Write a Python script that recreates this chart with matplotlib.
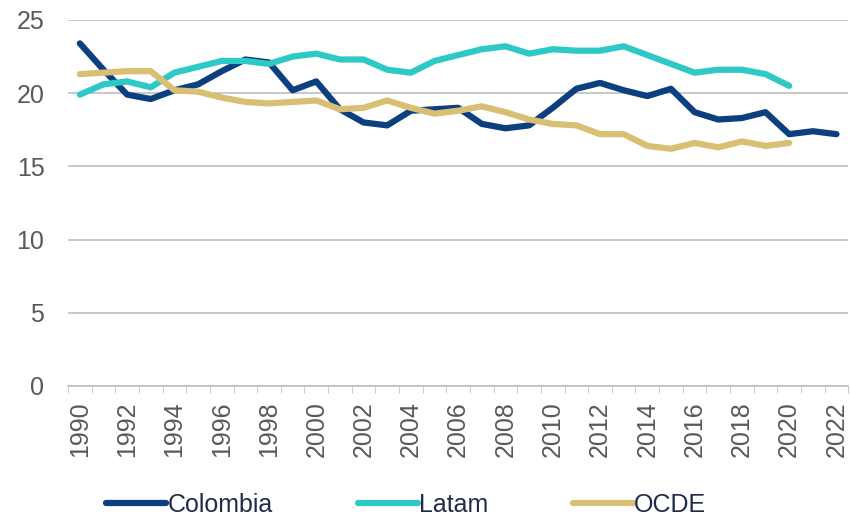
import matplotlib
matplotlib.use("Agg")
import matplotlib.pyplot as plt
import numpy as np

plt.rcParams['font.family'] = ['Liberation Sans', 'DejaVu Sans']

anios = list(range(1990, 2023))
colombia = [23.4, 21.6, 19.9, 19.6, 20.2, 20.6, 21.5, 22.3, 22.1, 20.2, 20.8,
            18.9, 18.0, 17.8, 18.8, 18.9, 19.0, 17.9, 17.6, 17.8, 19.0, 20.3,
            20.7, 20.2, 19.8, 20.3, 18.7, 18.2, 18.3, 18.7, 17.2, 17.4, 17.2]
latam = [19.9, 20.6, 20.8, 20.4, 21.4, 21.8, 22.2, 22.2, 22.0, 22.5, 22.7,
         22.3, 22.3, 21.6, 21.4, 22.2, 22.6, 23.0, 23.2, 22.7, 23.0, 22.9,
         22.9, 23.2, 22.6, 22.0, 21.4, 21.6, 21.6, 21.3, 20.5]
ocde = [21.3, 21.4, 21.5, 21.5, 20.2, 20.1, 19.7, 19.4, 19.3, 19.4, 19.5,
        18.9, 19.0, 19.5, 19.0, 18.6, 18.8, 19.1, 18.7, 18.2, 17.9, 17.8,
        17.2, 17.2, 16.4, 16.2, 16.6, 16.3, 16.7, 16.4, 16.6]

gris = '#595959'
fig = plt.figure(figsize=(8.5, 5.17), dpi=100)
ax = fig.add_axes([0.08, 0.2534, 0.918, 0.708])

ax.plot(anios, colombia, color='#0B3F7F', lw=4.5, label='Colombia', solid_capstyle='round')
ax.plot(anios[:len(latam)], latam, color='#2EC8C6', lw=4.5, label='Latam', solid_capstyle='round')
ax.plot(anios[:len(ocde)], ocde, color='#D8BF73', lw=4.5, label='OCDE', solid_capstyle='round')

ax.set_xlim(1989.5, 2022.5)
ax.set_ylim(0, 25)
ax.set_yticks([0, 5, 10, 15, 20, 25])
ax.yaxis.grid(True, color='#BFBFBF', lw=1.2)
ax.set_axisbelow(True)
ax.set_xticks(anios[::2])
ax.set_xticklabels([str(a) for a in anios[::2]], rotation=90)
ax.set_xticks(np.arange(1989.5, 2023, 1), minor=True)
ax.tick_params(axis='x', which='major', length=0, pad=11, labelsize=18, labelcolor=gris)
ax.tick_params(axis='x', which='minor', length=5, color='#BFBFBF')
ax.tick_params(axis='y', length=0, pad=17, labelsize=18, labelcolor=gris)
for lado in ['top', 'right', 'left']:
    ax.spines[lado].set_visible(False)
ax.spines['bottom'].set_color('#BFBFBF')
ax.spines['bottom'].set_linewidth(1.2)

fig.legend(loc='center', ncol=3, frameon=False, fontsize=18,
           handlelength=2.4, handletextpad=0.05, columnspacing=3.4,
           bbox_to_anchor=(0.478, 1 - 505 / 517), labelcolor='#1F2D4A',
           borderpad=0, borderaxespad=0)

fig.savefig('out.png', dpi=100)
